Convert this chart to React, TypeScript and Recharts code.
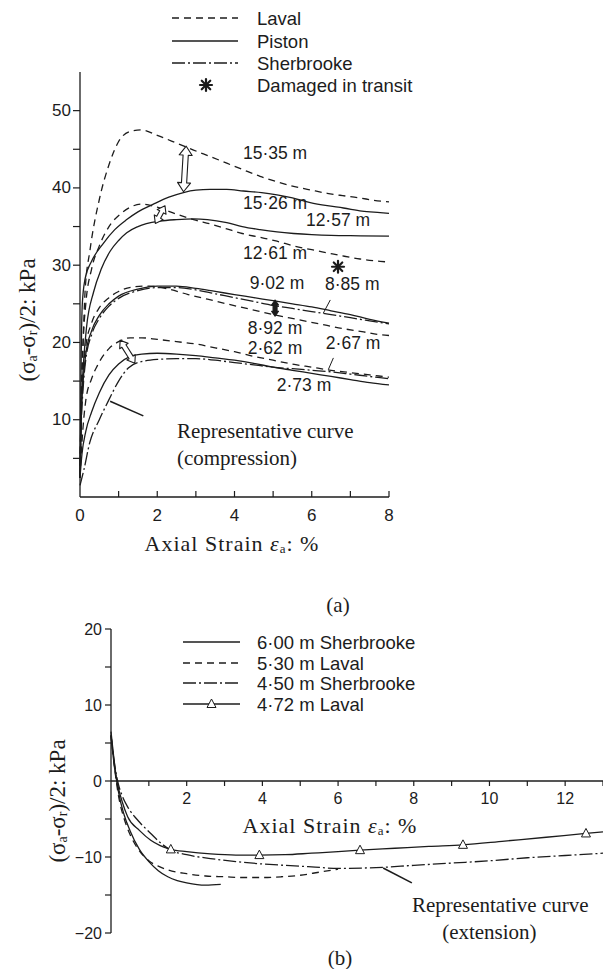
import React from "react";
import {
  ComposedChart,
  LineChart,
  Line,
  Scatter,
  XAxis,
  YAxis,
  ReferenceLine,
  ReferenceDot,
} from "recharts";

const INK = "#1c1c1c";
const SANS = "'Liberation Sans', Arial, sans-serif";
const SERIF = "'Liberation Serif', 'Times New Roman', serif";
const LAVAL_DASH = "7 5";
const SHERB_DASH = "13 3 2 3";

// ---------- panel (a): compression ----------
const a1535X = [0, 0.03, 0.08, 0.13, 0.26, 0.5, 0.75, 1, 1.3, 1.6, 2, 2.5, 2.94, 3.4, 3.8, 4.2, 4.66, 5.1, 5.53, 6, 6.4, 6.8, 7.25, 7.6, 8];
const a1535Y = [2.5, 12, 20, 26.5, 32, 38.5, 43, 46, 47.3, 47.5, 46.8, 45.8, 44.9, 44, 43.2, 42.4, 41.5, 40.8, 40.2, 39.7, 39.3, 39, 38.7, 38.4, 38.2];

const a1526X = [0, 0.03, 0.06, 0.13, 0.3, 0.6, 0.9, 1.21, 1.5, 1.9, 2.3, 2.68, 3, 3.37, 3.8, 4.23, 4.7, 5.1, 5.5, 5.96, 6.4, 6.82, 7.3, 7.77, 8];
const a1526Y = [2.5, 18, 25, 28.2, 30.5, 32.8, 34.6, 35.9, 36.9, 37.9, 38.8, 39.4, 39.7, 39.8, 39.8, 39.6, 39.4, 39.1, 38.7, 38.1, 37.7, 37.4, 37, 36.8, 36.7];

const a1257X = [0, 0.04, 0.1, 0.17, 0.35, 0.55, 0.78, 1, 1.21, 1.5, 2.07, 2.5, 2.94, 3.3, 3.8, 4.2, 4.66, 5.1, 5.53, 6, 6.5, 7.25, 8];
const a1257Y = [2.5, 12, 18, 22, 26.5, 29.5, 31.8, 33.2, 34.2, 35, 35.7, 35.9, 36, 35.9, 35.5, 35, 34.6, 34.3, 34.1, 33.95, 33.85, 33.8, 33.75];

const a1261X = [0, 0.03, 0.08, 0.15, 0.3, 0.5, 0.75, 1.04, 1.3, 1.6, 2, 2.5, 2.94, 3.4, 3.8, 4.2, 4.66, 5.1, 5.53, 6, 6.4, 6.8, 7.25, 7.77, 8];
const a1261Y = [2.5, 12, 20, 25, 29.5, 32.5, 35, 36.6, 37.5, 37.9, 37.5, 36.6, 35.9, 35.3, 34.7, 34.1, 33.6, 33.1, 32.5, 32, 31.6, 31.2, 30.8, 30.5, 30.4];

const a902X = [0, 0.03, 0.08, 0.15, 0.3, 0.5, 0.75, 1, 1.5, 2, 2.5, 3, 3.5, 4, 4.5, 5, 5.5, 6, 6.5, 7, 7.5, 8];
const a902Y = [2.5, 10, 15, 18.5, 21.5, 23.5, 25, 26, 26.9, 27.3, 27.3, 27, 26.6, 26.2, 25.8, 25.4, 25, 24.6, 24.1, 23.6, 23, 22.5];

const a885X = [0, 0.03, 0.08, 0.15, 0.3, 0.5, 0.75, 1, 1.5, 2, 2.5, 3, 3.5, 4, 4.5, 5, 5.5, 6, 6.5, 7, 7.5, 8];
const a885Y = [2.5, 9, 14, 17.8, 21, 23.1, 24.7, 25.7, 26.7, 27.1, 27.1, 26.8, 26.3, 25.8, 25.3, 24.8, 24.4, 24, 23.6, 23.2, 22.8, 22.4];

const a892X = [0, 0.03, 0.08, 0.15, 0.3, 0.5, 0.75, 1, 1.4, 1.8, 2.3, 2.8, 3.3, 3.8, 4.4, 5.1, 5.6, 6.2, 6.8, 7.3, 7.77, 8];
const a892Y = [2.5, 11, 16, 19.5, 22.5, 24.5, 25.8, 26.6, 27.2, 27.3, 26.9, 26.2, 25.6, 25, 24.3, 23.5, 23, 22.4, 21.8, 21.4, 21, 20.9];

const a262X = [0, 0.05, 0.15, 0.3, 0.45, 0.75, 1, 1.3, 1.6, 2, 2.5, 3, 3.5, 4, 4.5, 5, 5.5, 6, 6.5, 7, 7.5, 8];
const a262Y = [2.5, 7, 12.5, 15.3, 17, 19.2, 20.1, 20.6, 20.6, 20.4, 20.1, 19.8, 19.3, 18.8, 18.2, 17.7, 17.2, 16.8, 16.4, 16.1, 15.8, 15.5];

const a273X = [0, 0.05, 0.15, 0.3, 0.5, 0.75, 1, 1.3, 1.6, 2, 2.5, 3, 3.5, 4, 4.5, 5, 5.5, 6, 6.5, 7, 7.5, 8];
const a273Y = [2.5, 5.5, 8.5, 11, 13.5, 15.8, 17.2, 18.2, 18.5, 18.6, 18.5, 18.3, 18, 17.7, 17.3, 16.8, 16.4, 16, 15.6, 15.2, 14.8, 14.5];

const a267X = [0, 0.1, 0.25, 0.5, 0.75, 1, 1.25, 1.5, 2, 2.5, 3, 3.5, 4, 4.5, 5, 5.5, 6, 6.5, 7, 7.5, 8];
const a267Y = [1.5, 3.5, 7, 10, 12.6, 15, 16.7, 17.4, 17.8, 17.9, 17.9, 17.7, 17.4, 17.1, 16.8, 16.6, 16.4, 16.2, 15.9, 15.6, 15.3];

const aXTicks = [0, 1, 2, 3, 4, 5, 6, 7, 8];
const aYTicks = [5, 10, 15, 20, 25, 30, 35, 40, 45, 50];

const depthLabels = ["15·35 m", "15·26 m", "12·57 m", "12·61 m", "9·02 m", "8·85 m", "8·92 m", "2·62 m", "2·67 m", "2·73 m"];
const depthLabelX = [5.05, 5.05, 6.68, 5.05, 5.1, 7.05, 5.05, 5.05, 7.07, 5.8];
const depthLabelY = [44.5, 38.0, 35.9, 31.6, 27.7, 27.6, 21.9, 19.3, 19.9, 14.5];

const damagedX = 6.68;
const damagedY = 29.8;

// ---------- panel (b): extension ----------
const b600X = [0, 0.1, 0.2, 0.35, 0.5, 0.75, 1, 1.25, 1.5, 1.75, 2, 2.5, 2.9];
const b600Y = [6.5, 2, -1.5, -4.5, -6.5, -9, -10.6, -11.8, -12.6, -13.1, -13.4, -13.7, -13.6];

const b530X = [0, 0.1, 0.2, 0.35, 0.5, 0.75, 1, 1.25, 1.5, 2, 2.5, 3, 3.5, 4, 4.5, 5, 5.5, 6];
const b530Y = [6, 1.5, -2, -5, -7, -9.2, -10.5, -11.2, -11.7, -12.2, -12.5, -12.6, -12.7, -12.7, -12.6, -12.4, -12, -11.6];

const b450X = [0, 0.1, 0.2, 0.3, 0.44, 0.75, 1.05, 1.3, 1.58, 2, 2.63, 3.3, 3.95, 4.6, 5.3, 6, 7, 8, 9, 10, 11, 12, 13];
const b450Y = [6, 2, -0.5, -2, -3.4, -5.4, -6.9, -8.1, -9.1, -9.7, -10.2, -10.6, -10.9, -11.1, -11.3, -11.5, -11.4, -11.1, -10.8, -10.5, -10.1, -9.8, -9.5];

const b472X = [0, 0.1, 0.2, 0.3, 0.44, 0.75, 1.05, 1.3, 1.58, 2, 2.63, 3.3, 3.92, 4.6, 5.3, 6, 6.58, 7.5, 8.4, 9.3, 10.4, 11.5, 12.55, 13];
const b472Y = [6, 1.5, -1, -2.8, -4.7, -6.5, -7.8, -8.5, -9, -9.3, -9.6, -9.75, -9.75, -9.7, -9.5, -9.3, -9.1, -8.85, -8.6, -8.4, -7.9, -7.4, -6.9, -6.7];

const b472MarkX = [1.58, 3.92, 6.58, 9.3, 12.55];
const b472MarkY = [-9, -9.75, -9.1, -8.4, -6.9];

const bXTicks = [1, 2, 3, 4, 5, 6, 7, 8, 9, 10, 11, 12, 13];
const bYTicks = [-20, -15, -10, -5, 0, 5, 10, 15, 20];

const zip = (xs: number[], ys: number[]) => xs.map((x, i) => ({ x, y: ys[i] }));

const seriesA = [
  { id: "l1535", data: zip(a1535X, a1535Y), dash: LAVAL_DASH },
  { id: "p1526", data: zip(a1526X, a1526Y), dash: undefined },
  { id: "p1257", data: zip(a1257X, a1257Y), dash: undefined },
  { id: "l1261", data: zip(a1261X, a1261Y), dash: LAVAL_DASH },
  { id: "p902", data: zip(a902X, a902Y), dash: undefined },
  { id: "s885", data: zip(a885X, a885Y), dash: SHERB_DASH },
  { id: "l892", data: zip(a892X, a892Y), dash: LAVAL_DASH },
  { id: "l262", data: zip(a262X, a262Y), dash: LAVAL_DASH },
  { id: "p273", data: zip(a273X, a273Y), dash: undefined },
  { id: "s267", data: zip(a267X, a267Y), dash: SHERB_DASH },
];

const seriesB = [
  { id: "s600", data: zip(b600X, b600Y), dash: undefined },
  { id: "l530", data: zip(b530X, b530Y), dash: LAVAL_DASH },
  { id: "s450", data: zip(b450X, b450Y), dash: SHERB_DASH },
  { id: "l472", data: zip(b472X, b472Y), dash: undefined },
];

// ---------- small drawing helpers ----------
const doubleArrow = (fill: string, hl: number, hw: number, sw: number) => (p: any) => {
  const { x1, y1, x2, y2 } = p;
  const dx = x2 - x1;
  const dy = y2 - y1;
  const L = Math.hypot(dx, dy) || 1;
  const ux = dx / L, uy = dy / L;
  const nx = -uy, ny = ux;
  const P = (a: number, b: number) => `${x1 + ux * a + nx * b},${y1 + uy * a + ny * b}`;
  const pts = [
    P(0, 0), P(hl, hw), P(hl, sw), P(L - hl, sw), P(L - hl, hw),
    P(L, 0), P(L - hl, -hw), P(L - hl, -sw), P(hl, -sw), P(hl, -hw),
  ].join(" ");
  return <polygon points={pts} fill={fill} stroke={INK} strokeWidth={1.1} strokeLinejoin="round" />;
};

const Asterisk = ({ cx, cy, r }: { cx: number; cy: number; r: number }) => (
  <g stroke={INK} strokeWidth={2.2} strokeLinecap="round">
    {[0, 45, 90, 135].map((a) => {
      const t = (a * Math.PI) / 180;
      return (
        <line key={a} x1={cx - r * Math.cos(t)} y1={cy - r * Math.sin(t)} x2={cx + r * Math.cos(t)} y2={cy + r * Math.sin(t)} />
      );
    })}
  </g>
);

const YTickA = ({ x, y, payload }: any) => (
  <g>
    <line x1={x - 7} x2={x} y1={y} y2={y} stroke={INK} strokeWidth={1.2} />
    {payload.value % 10 === 0 && (
      <text x={x - 9} y={y} textAnchor="end" dominantBaseline="central" fontSize={17} fontFamily={SANS} fill={INK}>
        {payload.value}
      </text>
    )}
  </g>
);

const XTickA = ({ x, y, payload }: any) => (
  <g>
    {payload.value > 0 && <line x1={x} x2={x} y1={y} y2={y - 6} stroke={INK} strokeWidth={1.2} />}
    {payload.value % 2 === 0 && (
      <text x={x} y={y + 18} textAnchor="middle" dominantBaseline="central" fontSize={17} fontFamily={SANS} fill={INK}>
        {payload.value}
      </text>
    )}
  </g>
);

const YTickB = ({ x, y, payload }: any) => (
  <g>
    <line x1={x - 6} x2={x} y1={y} y2={y} stroke={INK} strokeWidth={1.2} />
    {payload.value % 10 === 0 && (
      <text x={x - 9} y={y} textAnchor="end" dominantBaseline="central" fontSize={16} fontFamily={SANS} fill={INK}>
        {payload.value < 0 ? `−${Math.abs(payload.value)}` : payload.value}
      </text>
    )}
  </g>
);

const depthText = (label: string) => (p: any) => (
  <text x={p.cx} y={p.cy} textAnchor="middle" dominantBaseline="central" fontSize={17.5} fontFamily={SANS} fill={INK}>
    {label}
  </text>
);

const noteText = (label: string) => (p: any) => (
  <text x={p.cx} y={p.cy} textAnchor="start" dominantBaseline="central" fontSize={21} fontFamily={SERIF} fill={INK}>
    {label}
  </text>
);

const bTick = (v: number) => (p: any) => (
  <g>
    <line x1={p.cx} x2={p.cx} y1={p.cy} y2={p.cy + 5} stroke={INK} strokeWidth={1.2} />
    {v % 2 === 0 && (
      <text x={p.cx} y={p.cy + 17} textAnchor="middle" dominantBaseline="central" fontSize={16} fontFamily={SANS} fill={INK}>
        {v}
      </text>
    )}
  </g>
);

const triangle = (p: any) => (
  <polygon
    points={`${p.cx},${p.cy - 5} ${p.cx - 4.5},${p.cy + 3.5} ${p.cx + 4.5},${p.cy + 3.5}`}
    fill="#fff"
    stroke={INK}
    strokeWidth={1}
  />
);

const YTitle = ({ cx, cy }: { cx: number; cy: number }) => (
  <text
    transform={`translate(${cx},${cy}) rotate(-90)`}
    textAnchor="middle"
    dominantBaseline="central"
    fontFamily={SERIF}
    fontSize={23}
    fill={INK}
  >
    (σ<tspan fontSize={14} dy={5}>a</tspan>
    <tspan dy={-5}>-σ</tspan>
    <tspan fontSize={14} dy={5}>r</tspan>
    <tspan dy={-5}>)/2: kPa</tspan>
  </text>
);

const XTitle = ({ cx, cy }: { cx: number; cy: number }) => (
  <text x={cx} y={cy} textAnchor="middle" dominantBaseline="central" fontFamily={SERIF} fontSize={22} letterSpacing={1} fill={INK}>
    Axial Strain <tspan fontStyle="italic">ε</tspan>
    <tspan fontSize={13} dy={5}>a</tspan>
    <tspan dy={-5}>: %</tspan>
  </text>
);

export default function App() {
  return (
    <div style={{ position: "absolute", left: 0, top: 0, width: 603, height: 969, overflow: "hidden", background: "#fff" }}>
      <div style={{ position: "absolute", left: 0, top: 0 }}>
        <LineChart width={603} height={560} margin={{ top: 72, right: 214, bottom: 33, left: 40 }}>
          <XAxis
            type="number"
            dataKey="x"
            domain={[0, 8]}
            ticks={aXTicks}
            interval={0}
            tickSize={0}
            tickMargin={0}
            tick={XTickA}
            height={30}
            axisLine={{ stroke: INK, strokeWidth: 1.3 }}
          />
          <YAxis
            type="number"
            dataKey="y"
            domain={[0, 55]}
            ticks={aYTicks}
            interval={0}
            tickSize={0}
            tickMargin={0}
            tick={YTickA}
            width={40}
            axisLine={{ stroke: INK, strokeWidth: 1.3 }}
          />
          {seriesA.map((s) => (
            <Line
              key={s.id}
              data={s.data}
              dataKey="y"
              type="monotone"
              stroke={INK}
              strokeWidth={1.3}
              strokeDasharray={s.dash}
              dot={false}
              activeDot={false}
              isAnimationActive={false}
            />
          ))}
          <ReferenceLine segment={[{ x: 2.75, y: 45.4 }, { x: 2.68, y: 39.5 }]} ifOverflow="visible" shape={doubleArrow("#fff", 9, 6.5, 2.6)} />
          <ReferenceLine segment={[{ x: 2.2, y: 37.7 }, { x: 1.95, y: 35.4 }]} ifOverflow="visible" shape={doubleArrow("#fff", 7, 5, 2.2)} />
          <ReferenceLine segment={[{ x: 1.04, y: 20.3 }, { x: 1.42, y: 17.3 }]} ifOverflow="visible" shape={doubleArrow("#fff", 7, 5, 2.4)} />
          <ReferenceLine segment={[{ x: 5.05, y: 25.5 }, { x: 5.05, y: 23.4 }]} ifOverflow="visible" shape={doubleArrow(INK, 5, 3.5, 2)} />
          <ReferenceLine segment={[{ x: 6.48, y: 25.5 }, { x: 6.3, y: 23.8 }]} stroke={INK} strokeWidth={1} />
          <ReferenceLine segment={[{ x: 6.56, y: 18.0 }, { x: 6.43, y: 16.5 }]} stroke={INK} strokeWidth={1} />
          <ReferenceLine segment={[{ x: 0.78, y: 12.4 }, { x: 1.64, y: 10.5 }]} stroke={INK} strokeWidth={1.6} />
          {depthLabels.map((t, i) => (
            <ReferenceDot key={t} x={depthLabelX[i]} y={depthLabelY[i]} r={0} ifOverflow="visible" shape={depthText(t)} />
          ))}
          <ReferenceDot x={damagedX} y={damagedY} r={0} ifOverflow="visible" shape={(p: any) => <Asterisk cx={p.cx} cy={p.cy} r={6} />} />
          <ReferenceDot x={2.51} y={8.6} r={0} ifOverflow="visible" shape={noteText("Representative curve")} />
          <ReferenceDot x={2.51} y={5.1} r={0} ifOverflow="visible" shape={noteText("(compression)")} />
        </LineChart>
      </div>

      <div style={{ position: "absolute", left: 0, top: 600 }}>
        <ComposedChart width={603} height={369} margin={{ top: 29, right: 0, bottom: 36, left: 71 }}>
          <XAxis type="number" dataKey="x" domain={[0, 13]} hide />
          <YAxis
            type="number"
            dataKey="y"
            domain={[-20, 20]}
            ticks={bYTicks}
            interval={0}
            tickSize={0}
            tickMargin={0}
            tick={YTickB}
            width={40}
            axisLine={{ stroke: INK, strokeWidth: 1.3 }}
          />
          <ReferenceLine y={0} stroke={INK} strokeWidth={1.3} />
          {bXTicks.map((v) => (
            <ReferenceDot key={v} x={v} y={0} r={0} ifOverflow="visible" shape={bTick(v)} />
          ))}
          {seriesB.map((s) => (
            <Line
              key={s.id}
              data={s.data}
              dataKey="y"
              type="monotone"
              stroke={INK}
              strokeWidth={1.3}
              strokeDasharray={s.dash}
              dot={false}
              activeDot={false}
              isAnimationActive={false}
            />
          ))}
          <Scatter data={zip(b472MarkX, b472MarkY)} dataKey="y" shape={triangle} isAnimationActive={false} />
          <ReferenceLine segment={[{ x: 7.19, y: -11.45 }, { x: 7.95, y: -13.4 }]} stroke={INK} strokeWidth={1.6} />
          <ReferenceDot x={7.95} y={-16.3} r={0} ifOverflow="visible" shape={noteText("Representative curve")} />
          <ReferenceDot x={8.75} y={-19.85} r={0} ifOverflow="visible" shape={noteText("(extension)")} />
        </ComposedChart>
      </div>

      <svg width={603} height={969} style={{ position: "absolute", left: 0, top: 0, pointerEvents: "none" }}>
        {/* legend (a) */}
        <g stroke={INK} strokeWidth={1.3}>
          <line x1={172} x2={238} y1={18} y2={18} strokeDasharray={LAVAL_DASH} />
          <line x1={172} x2={238} y1={41} y2={41} />
          <line x1={172} x2={238} y1={63} y2={63} strokeDasharray={SHERB_DASH} />
        </g>
        <Asterisk cx={206} cy={85} r={6} />
        <g fontFamily={SANS} fontSize={18.5} fill={INK} dominantBaseline="central">
          <text x={257} y={18}>Laval</text>
          <text x={257} y={41}>Piston</text>
          <text x={257} y={63}>Sherbrooke</text>
          <text x={257} y={85}>Damaged in transit</text>
        </g>
        <YTitle cx={27} cy={320} />
        <XTitle cx={232} cy={543} />
        <text x={338} y={605} textAnchor="middle" dominantBaseline="central" fontFamily={SERIF} fontSize={21} fill={INK}>(a)</text>

        {/* legend (b) */}
        <g stroke={INK} strokeWidth={1.3}>
          <line x1={183} x2={240} y1={642} y2={642} />
          <line x1={183} x2={240} y1={663} y2={663} strokeDasharray={LAVAL_DASH} />
          <line x1={183} x2={240} y1={683} y2={683} strokeDasharray={SHERB_DASH} />
          <line x1={183} x2={240} y1={704} y2={704} />
        </g>
        <polygon points="211.5,699 207,707.5 216,707.5" fill="#fff" stroke={INK} strokeWidth={1} />
        <g fontFamily={SANS} fontSize={18.5} fill={INK} dominantBaseline="central">
          <text x={257} y={642}>6·00 m Sherbrooke</text>
          <text x={257} y={663}>5·30 m Laval</text>
          <text x={257} y={683}>4·50 m Sherbrooke</text>
          <text x={257} y={704}>4·72 m Laval</text>
        </g>
        <YTitle cx={57} cy={801} />
        <XTitle cx={330} cy={825} />
        <text x={340} y={958} textAnchor="middle" dominantBaseline="central" fontFamily={SERIF} fontSize={21} fill={INK}>(b)</text>
      </svg>
    </div>
  );
}
